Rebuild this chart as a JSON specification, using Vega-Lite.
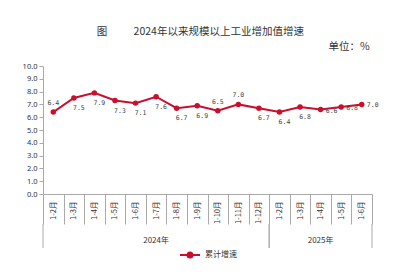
{
  "$schema": "https://vega.github.io/schema/vega-lite/v6.json",
  "background": "white",
  "padding": {"left": 22, "top": 27, "right": 10, "bottom": 5},
  "title": {"text": "图\u3000\u3000\u20022024年以来规模以上工业增加值增速", "fontSize": 10.5, "font": "Noto Sans CJK SC", "fontWeight": "normal", "color": "#333", "anchor": "middle", "offset": 4},
  "spacing": 30,
  "bounds": "flush",
  "config": {"view": {"stroke": null}, "font": "Noto Sans CJK SC", "legend": {"layout": {"bottom": {"anchor": "middle"}}}},
  "vconcat": [
    {
      "width": 329,
      "height": 128,
      "title": {"text": "单位：%", "anchor": "end", "fontSize": 10.5, "fontWeight": "normal", "color": "#333", "dx": -9, "offset": 10},
      "data": {"values": [
        {"period": "2024年1-2月", "value": 6.4},
        {"period": "2024年1-3月", "value": 7.5},
        {"period": "2024年1-4月", "value": 7.9},
        {"period": "2024年1-5月", "value": 7.3},
        {"period": "2024年1-6月", "value": 7.1},
        {"period": "2024年1-7月", "value": 7.6},
        {"period": "2024年1-8月", "value": 6.7},
        {"period": "2024年1-9月", "value": 6.9},
        {"period": "2024年1-10月", "value": 6.5},
        {"period": "2024年1-11月", "value": 7.0},
        {"period": "2024年1-12月", "value": 6.7},
        {"period": "2025年1-2月", "value": 6.4},
        {"period": "2025年1-3月", "value": 6.8},
        {"period": "2025年1-4月", "value": 6.6},
        {"period": "2025年1-5月", "value": 6.8},
        {"period": "2025年1-6月", "value": 7.0}
      ]},
      "encoding": {
        "x": {"field": "period", "type": "ordinal", "sort": null, "scale": {"paddingInner": 0, "paddingOuter": 0},
          "axis": {"title": null, "labelAngle": -90, "labelExpr": "substring(datum.label, 5)", "tickBand": "extent", "tickSize": 30, "tickColor": "#aaa", "domainColor": "#aaa", "labelFontSize": 7.5, "labelColor": "#333", "labelPadding": -23}},
        "y": {"field": "value", "type": "quantitative", "scale": {"domain": [0, 10], "nice": false},
          "axis": {"title": null, "values": [0,1,2,3,4,5,6,7,8,9,10], "format": ".1f", "labelFontSize": 7.5, "labelFont": "Noto Sans", "labelColor": "#333", "tickSize": 4, "tickColor": "#aaa", "domainColor": "#aaa", "grid": false, "labelPadding": 2}}
      },
      "layer": [
        {"mark": {"type": "line", "strokeWidth": 2},
         "encoding": {"color": {"datum": "累计增速", "type": "nominal", "scale": {"range": ["#c8102e"]},
           "legend": {"orient": "bottom", "title": null, "symbolType": "M-1,0L1,0M-0.25,0A0.25,0.25,0,1,0,0.25,0A0.25,0.25,0,1,0,-0.25,0Z", "symbolSize": 400, "symbolStrokeWidth": 2, "symbolStrokeColor": "#c8102e", "symbolFillColor": "#c8102e", "labelFontSize": 8, "labelColor": "#333", "offset": -5}}}},
        {"mark": {"type": "point", "filled": true, "size": 30, "opacity": 1, "color": "#c8102e"}},
        {"transform": [{"filter": "indexof(['2024年1-2月','2024年1-10月','2024年1-11月'], datum.period) >= 0"}],
         "mark": {"type": "text", "font": "DejaVu Sans Mono", "fontSize": 6.5, "color": "#444", "dy": -9},
         "encoding": {"text": {"field": "value", "type": "quantitative", "format": ".1f"}}},
        {"transform": [{"filter": "indexof(['2025年1-4月','2025年1-5月','2025年1-6月'], datum.period) >= 0"}],
         "mark": {"type": "text", "font": "DejaVu Sans Mono", "fontSize": 6.5, "color": "#444", "dx": 11, "dy": 1},
         "encoding": {"text": {"field": "value", "type": "quantitative", "format": ".1f"}}},
        {"transform": [{"filter": "indexof(['2024年1-2月','2024年1-10月','2024年1-11月','2025年1-4月','2025年1-5月','2025年1-6月'], datum.period) < 0"}],
         "mark": {"type": "text", "font": "DejaVu Sans Mono", "fontSize": 6.5, "color": "#444", "dx": 5, "dy": 10},
         "encoding": {"text": {"field": "value", "type": "quantitative", "format": ".1f"}}}
      ]
    },
    {
      "width": 329,
      "height": 24,
      "data": {"values": [
        {"year": "2024年", "start": 0, "end": 11, "mid": 5.5},
        {"year": "2025年", "start": 11, "end": 16, "mid": 13.5}
      ]},
      "layer": [
        {"mark": {"type": "rule", "color": "#aaa"},
         "encoding": {"x": {"field": "start", "type": "quantitative", "scale": {"domain": [0, 16], "nice": false, "zero": false}, "axis": null}}},
        {"mark": {"type": "rule", "color": "#aaa"},
         "encoding": {"x": {"field": "end", "type": "quantitative", "axis": null}}},
        {"mark": {"type": "text", "fontSize": 8, "color": "#333", "dy": 5},
         "encoding": {"x": {"field": "mid", "type": "quantitative", "axis": null}, "text": {"field": "year"}}}
      ]
    }
  ]
}
